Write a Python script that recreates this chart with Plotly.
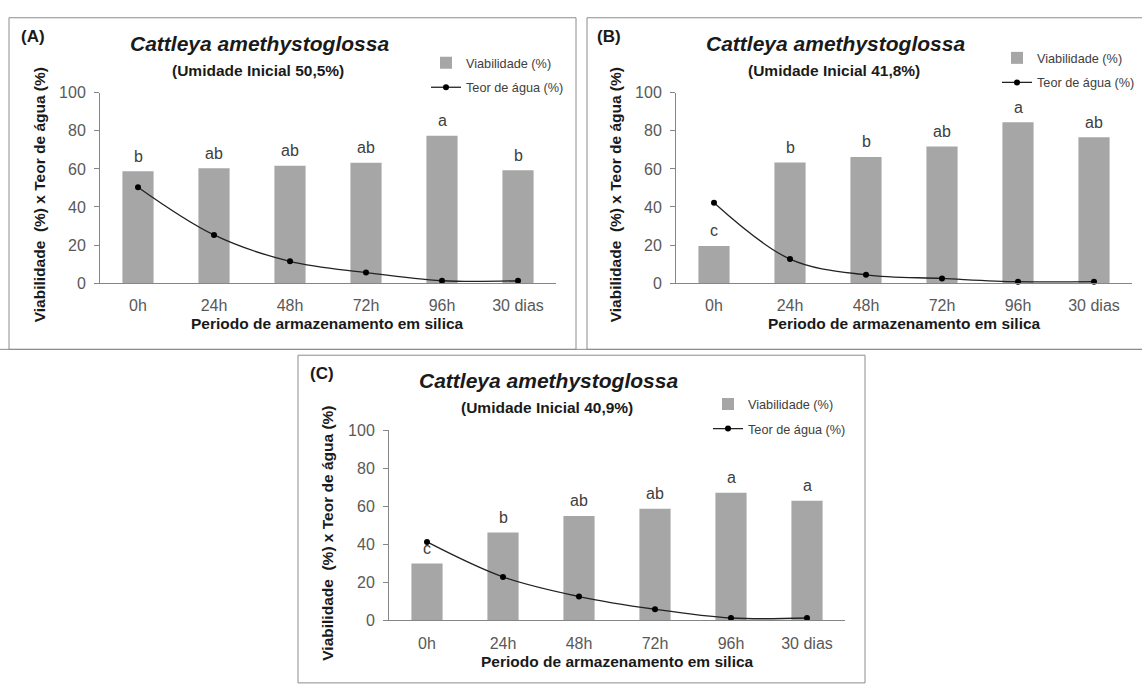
import plotly.graph_objects as go

# ---------------- data ----------------
categories = ["0h", "24h", "48h", "72h", "96h", "30 dias"]

viab_A = [58.8, 60.4, 61.7, 63.2, 77.4, 59.3]
teor_A = [50.4, 25.3, 11.4, 5.5, 1.2, 1.2]
letters_A = ["b", "ab", "ab", "ab", "a", "b"]

viab_B = [19.5, 63.4, 66.3, 71.8, 84.6, 76.7]
teor_B = [42.2, 12.6, 4.3, 2.4, 0.7, 0.7]
letters_B = ["c", "b", "b", "ab", "a", "ab"]

viab_C = [29.9, 46.2, 55.0, 58.8, 67.2, 62.9]
teor_C = [41.3, 22.9, 12.6, 5.9, 1.3, 1.3]
letters_C = ["c", "b", "ab", "ab", "a", "a"]

panel_labels = ["(A)", "(B)", "(C)"]
humidity = ["50,5%", "41,8%", "40,9%"]
species = "Cattleya amethystoglossa"
bar_name = "Viabilidade (%)"
line_name = "Teor de água (%)"
x_title = "Periodo de armazenamento em silica"
y_title = "Viabilidade  (%) x Teor de água (%)"

# ---------------- layout helpers ----------------
W, H = 1142, 688
FONT = "Liberation Sans, Arial, sans-serif"


def px(x):
    return x / W


def py(y):
    return 1 - y / H


# plot areas in pixels: (x_left, x_right, y_top(100), y_bottom(0))
areas = [(100, 556, 87, 282), (676, 1132, 87, 282), (389, 845, 433, 628)]
legend_pos = [(426, 41), (997, 36), (708, 391)]

series = [(viab_A, teor_A, letters_A), (viab_B, teor_B, letters_B), (viab_C, teor_C, letters_C)]

fig = go.Figure()
legend_keys = ["legend", "legend2", "legend3"]
annotations = []

for i, (viab, teor, letters) in enumerate(series):
    xa = "x" if i == 0 else f"x{i+1}"
    ya = "y" if i == 0 else f"y{i+1}"
    lg = legend_keys[i]
    fig.add_trace(go.Bar(
        x=categories, y=viab, name=bar_name, xaxis=xa, yaxis=ya,
        marker=dict(color="#a6a6a6", line=dict(width=0)),
        legend=lg, legendgroup=f"bar{i}",
    ))
    fig.add_trace(go.Scatter(
        x=categories, y=teor, name=line_name, xaxis=xa, yaxis=ya,
        mode="lines+markers",
        line=dict(color="#222222", width=1.3, shape="spline", smoothing=1.0),
        marker=dict(color="#000000", size=6),
        cliponaxis=False,
        legend=lg, legendgroup=f"line{i}",
    ))
    # significance letters above each bar
    for cat, val, let in zip(categories, viab, letters):
        annotations.append(dict(
            text=let, x=cat, y=val, xref=xa, yref=ya,
            xanchor="center", yanchor="middle", yshift=15, showarrow=False,
            font=dict(size=16, color="#404040", family=FONT),
        ))

layout = dict(
    width=W, height=H,
    margin=dict(l=0, r=0, t=0, b=0),
    paper_bgcolor="white", plot_bgcolor="white",
    bargap=0.59,
    font=dict(family=FONT, color="#404040"),
)

for i, (xl, xr, yt, yb) in enumerate(areas):
    xk = "xaxis" if i == 0 else f"xaxis{i+1}"
    yk = "yaxis" if i == 0 else f"yaxis{i+1}"
    xa = "x" if i == 0 else f"x{i+1}"
    ya = "y" if i == 0 else f"y{i+1}"
    layout[xk] = dict(
        domain=[px(xl), px(xr)], anchor=ya, type="category",
        showline=True, linecolor="#868686", linewidth=1,
        ticks="", showgrid=False, zeroline=False,
        tickfont=dict(size=16, color="#595959", family=FONT),
        ticklabelstandoff=8, fixedrange=True,
    )
    layout[yk] = dict(
        domain=[py(yb), py(yt)], anchor=xa, range=[0, 100], dtick=20,
        showline=True, linecolor="#868686", linewidth=1,
        ticks="outside", ticklen=5, tickcolor="#868686",
        showgrid=False, zeroline=False,
        tickfont=dict(size=16, color="#595959", family=FONT),
        ticklabelstandoff=5, fixedrange=True,
    )
    lx, ly = legend_pos[i]
    layout[legend_keys[i]] = dict(
        x=px(lx), y=py(ly), xanchor="left", yanchor="top",
        bgcolor="rgba(0,0,0,0)", borderwidth=0,
        font=dict(size=12.7, color="#404040", family=FONT),
        traceorder="grouped", tracegroupgap=5,
    )

fig.update_layout(**layout)

for i, (xl, xr, yt, yb) in enumerate(areas):
    dx = xl - 100
    dy = yb - 282
    items = [
        (panel_labels[i], 33 + dx, 29 + dy, 17, "<b>{}</b>", "#1a1a1a", 0),
        (species, 259 + dx, 36 + dy, 21, "<b><i>{}</i></b>", "#1a1a1a", 0),
        (f"(Umidade Inicial {humidity[i]})", 258 + dx, 64 + dy, 15.5, "<b>{}</b>", "#1a1a1a", 0),
        (x_title, 328 + dx, 324 + dy, 15.5, "<b>{}</b>", "#1a1a1a", 0),
        (y_title, 39 + dx, 192 + dy, 15.5, "<b>{}</b>", "#1a1a1a", -90),
    ]
    for text, x, y, size, fmt, color, ang in items:
        annotations.append(dict(
            text=fmt.format(text), x=px(x), y=py(y), xref="paper", yref="paper",
            xanchor="center", yanchor="middle", showarrow=False, textangle=ang,
            font=dict(size=size, color=color, family=FONT),
        ))
fig.update_layout(annotations=annotations)

border = dict(color="#8c8c8c", width=1)
shapes = [
    dict(type="rect", xref="paper", yref="paper", x0=px(9), x1=px(576), y0=py(350), y1=py(10), line=border),
    dict(type="rect", xref="paper", yref="paper", x0=px(587), x1=px(1145), y0=py(350), y1=py(10), line=border),
    dict(type="rect", xref="paper", yref="paper", x0=px(298), x1=px(865), y0=py(692), y1=py(356), line=border),
    dict(type="line", xref="paper", yref="paper", x0=0, x1=1, y0=py(350), y1=py(350), line=border),
]
fig.update_layout(shapes=shapes)

fig.write_html("out.html")
